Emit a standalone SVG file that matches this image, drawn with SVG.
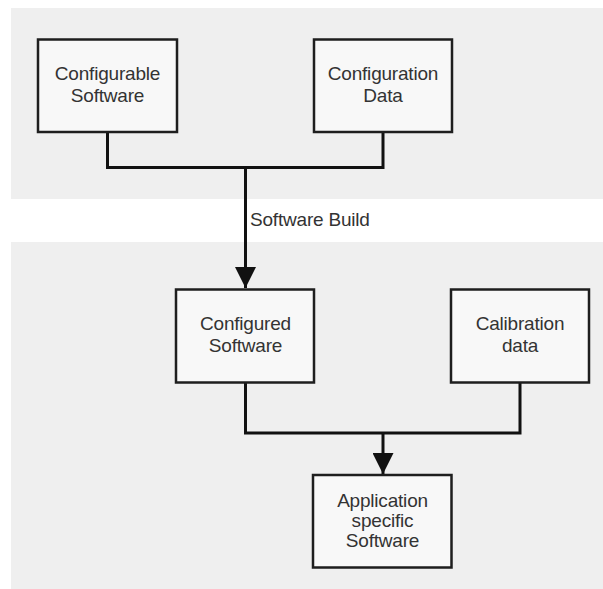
<svg xmlns="http://www.w3.org/2000/svg" width="603" height="589" viewBox="0 0 603 589">
<style>
.band{fill:#efefef}
.box{fill:#f8f8f8;stroke:#1e1e1e;stroke-width:2.5}
.lbl{font-family:"Liberation Sans",Arial,sans-serif;font-size:19px;letter-spacing:-0.2px;fill:#333;text-anchor:middle}
.conn{fill:none;stroke:#111;stroke-width:3;stroke-linejoin:miter}
.edge{font-family:"Liberation Sans",Arial,sans-serif;font-size:19px;letter-spacing:-0.2px;fill:#333}
</style>
<defs>
<marker id="arr" markerUnits="userSpaceOnUse" markerWidth="22" markerHeight="21" refX="21" refY="10.5" orient="auto">
<path d="M0,0 L21,10.5 L0,21 Z" fill="#111"/>
</marker>
</defs>
<rect class="band" x="11" y="8" width="592" height="191"/>
<rect class="band" x="11" y="242" width="592" height="347"/>
<g id="connectors">
<path class="conn" d="M107.5,132 V167.5 H383 V132"/>
<path class="conn" d="M245.5,167.5 V288" marker-end="url(#arr)"/>
<text class="edge" x="250" y="226">Software Build</text>
<path class="conn" d="M245.5,383 V433 H520 V383"/>
<path class="conn" d="M383,433 V474" marker-end="url(#arr)"/>
</g>
<g id="configurable-software">
<rect class="box" x="38" y="39.5" width="139" height="92.5"/>
<text class="lbl" x="107.5" y="80">Configurable</text>
<text class="lbl" x="107.5" y="102">Software</text>
</g>
<g id="configuration-data">
<rect class="box" x="314" y="39.5" width="138" height="92.5"/>
<text class="lbl" x="383" y="80">Configuration</text>
<text class="lbl" x="383" y="102">Data</text>
</g>
<g id="configured-software">
<rect class="box" x="176" y="289.5" width="138" height="93"/>
<text class="lbl" x="245.5" y="330">Configured</text>
<text class="lbl" x="245.5" y="352">Software</text>
</g>
<g id="calibration-data">
<rect class="box" x="451" y="289.5" width="138" height="93"/>
<text class="lbl" x="520" y="330">Calibration</text>
<text class="lbl" x="520" y="352">data</text>
</g>
<g id="application-software">
<rect class="box" x="313" y="475" width="138.5" height="92.5"/>
<text class="lbl" x="382.5" y="507">Application</text>
<text class="lbl" x="382.5" y="527">specific</text>
<text class="lbl" x="382.5" y="547">Software</text>
</g>
</svg>
